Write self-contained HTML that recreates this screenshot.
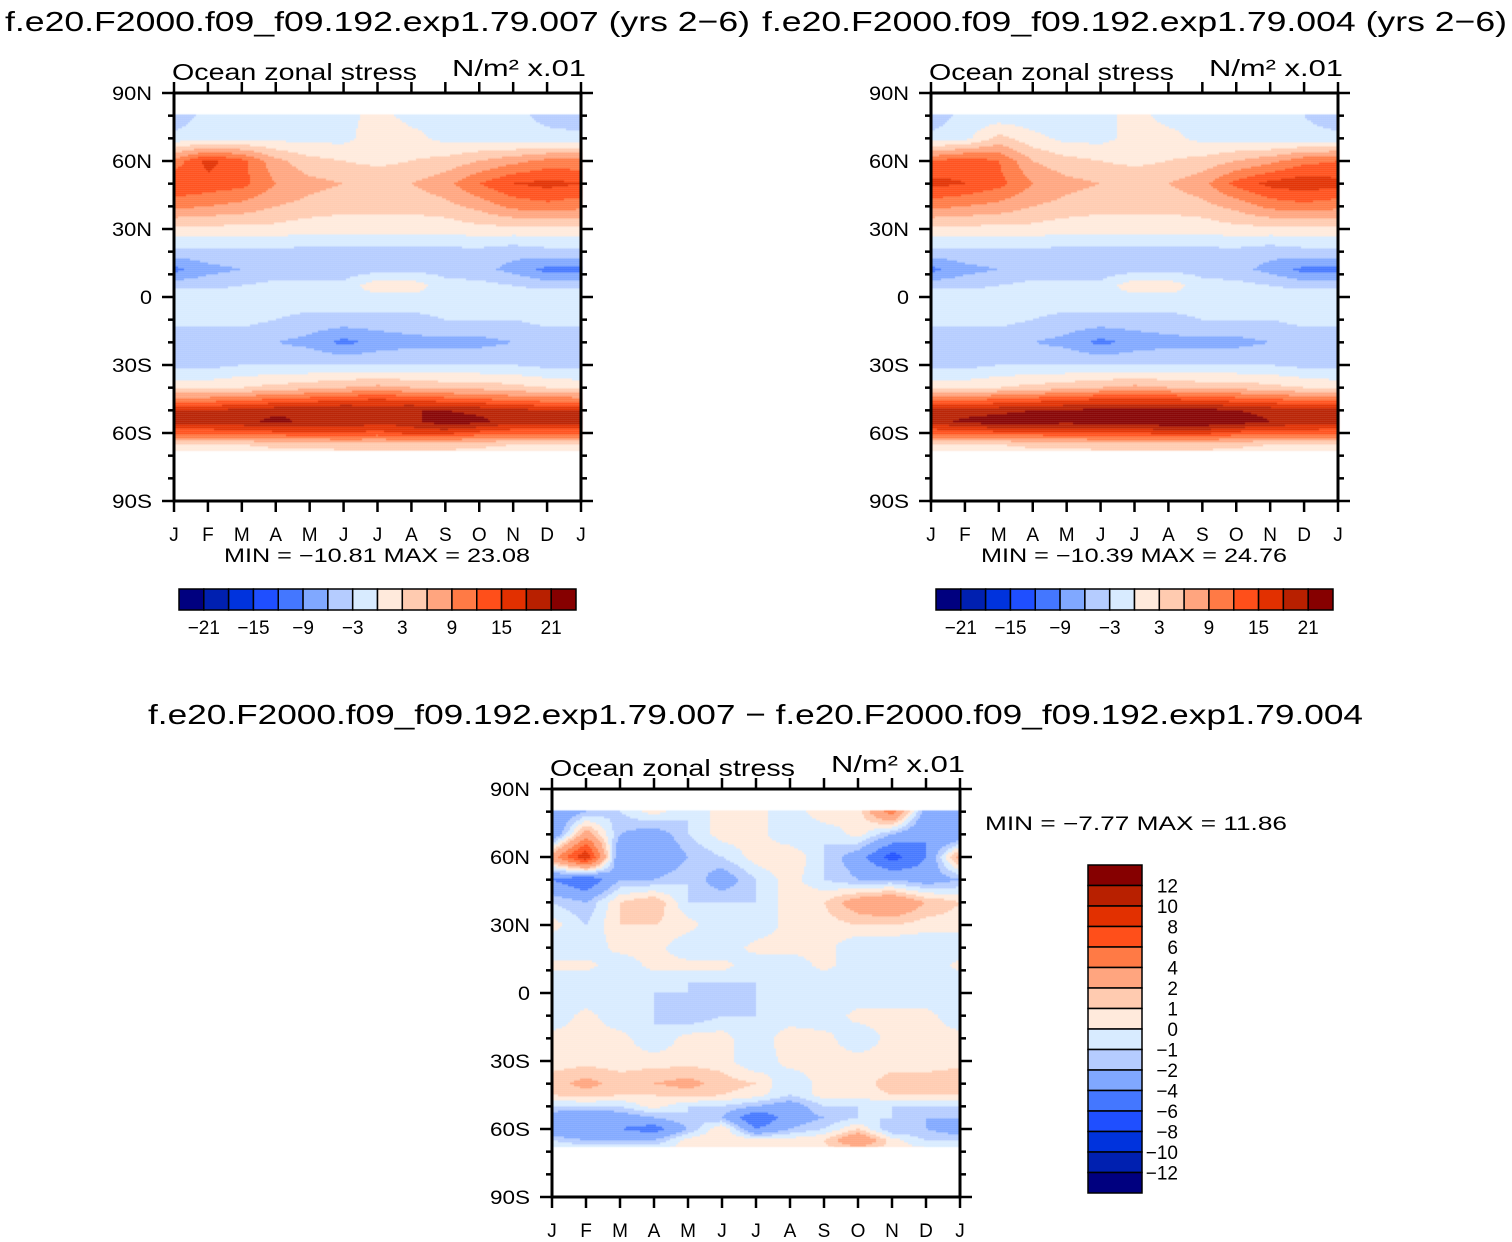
<!DOCTYPE html>
<html><head><meta charset="utf-8"><style>
body{margin:0;background:#fff;width:1512px;height:1242px;overflow:hidden;font-family:"Liberation Sans",sans-serif;position:relative}
canvas{position:absolute;left:0;top:0}
svg{position:absolute;left:0;top:0}
</style></head><body>
<canvas id="cv" width="1512" height="1242"></canvas>
<svg id="sv" width="1512" height="1242"></svg>
<script>
const months=["J","F","M","A","M","J","J","A","S","O","N","D","J"];
const lats=[80,70,60,50,40,30,20,12,5,0,-10,-20,-30,-40,-45,-50,-55,-60,-65,-70];
const colors=["#00007f","#0020b0","#0033dd","#1f4fff","#4477ff","#80a8ff","#b5ccff","#d8ebff","#ffeadc","#ffcbb0","#ffa57f","#ff7a45","#ff4f1a","#e23000","#b82000","#860000"];
const levelsTop=[-21,-18,-15,-12,-9,-6,-3,0,3,6,9,12,15,18,21];
const levelsDiff=[-12,-10,-8,-6,-4,-2,-1,0,1,2,4,6,8,10,12];
const fieldA=[
[-5,-2,-2,-2,-1,-1,1,-1,-1,-1,-2,-4,-5],
[-2,-1,-1,-1,-1,-1,2,1,-1,-1,-2,-2,-2],
[10,16,13,7,4,3,2,3,4,6,8,10,10],
[15,14,13,9,7,6,6,6,8,12,15,16,15],
[10,9,8,6,5,4,4,4,5,7,10,11,10],
[2,2,2,2,1,1,1,1,1,2,2,2,2],
[-4,-4,-4,-4,-4,-4,-4,-4,-4,-4,-5,-4,-4],
[-10,-7,-6,-5,-5,-5,-4,-4,-4,-5,-7,-10,-10],
[-4,-4,-3,-2,-2,-2,2,2,-2,-2,-3,-4,-4],
[-1,-1,-1,-1,-1,-1,-1,-1,-1,-1,-1,-1,-1],
[-2,-2,-2,-3,-4,-4,-4,-4,-3,-3,-3,-2,-2],
[-5,-5,-5,-6,-7,-10,-8,-7,-7,-7,-6,-5,-5],
[-4,-4,-3,-3,-3,-3,-3,-3,-3,-3,-3,-4,-4],
[2,2,3,4,5,6,7,6,5,5,4,3,2],
[10,10,11,12,13,14,15,14,13,12,11,10,10],
[18,18,19,20,21,21,20,21,21,20,19,18,18],
[19,19,20,22,20,21,19,20,23,22,19,19,19],
[13,13,14,14,15,15,14,16,16,14,13,13,13],
[3,3,3,4,4,5,5,5,5,4,3,3,3],
[-1,-1,1,1,1,1,1,1,1,1,1,-1,-1]];
const fieldB=[
[-5,-2,-2,-2,-1,-1,1,-1,-1,-1,-2,-3,-5],
[-2,-1,4,1,-1,-1,1,1,-1,-1,-2,-2,-2],
[12,14,12,6,4,3,2,3,4,6,8,11,12],
[16,15,13,9,7,6,6,6,8,13,16,17,16],
[10,9,8,6,5,4,4,4,5,7,10,11,10],
[2,2,2,2,1,1,1,1,1,2,2,2,2],
[-4,-4,-4,-4,-4,-4,-4,-4,-4,-4,-5,-4,-4],
[-10,-7,-6,-5,-5,-5,-4,-4,-4,-5,-7,-10,-10],
[-4,-4,-3,-2,-2,-2,2,2,-2,-2,-3,-4,-4],
[-1,-1,-1,-1,-1,-1,-1,-1,-1,-1,-1,-1,-1],
[-2,-2,-2,-3,-4,-4,-4,-4,-3,-3,-3,-2,-2],
[-5,-5,-5,-6,-7,-10,-8,-7,-7,-7,-6,-5,-5],
[-4,-4,-3,-3,-3,-3,-3,-3,-3,-3,-3,-4,-4],
[2,2,3,4,5,6,7,6,5,5,4,3,2],
[11,11,12,13,14,15,15,15,14,13,12,11,11],
[19,19,20,21,21,22,22,22,22,21,20,19,19],
[19,22,23,23,22,23,23,24,24,23,21,20,19],
[13,13,14,14,15,15,15,16,16,14,13,13,13],
[3,3,3,4,4,5,5,5,5,4,3,3,3],
[-1,-1,1,1,1,1,1,1,1,1,1,-1,-1]];
const fieldD=[
[-4,-2,-1,0.5,-1,0.5,0.5,-1,1,0.5,5,-3,-4],
[-4,3,-2,-3,-1,0.5,0.5,-1,-1,0.5,-2,-4,-4],
[3,10,-4,-4,-2,-1,0.5,1,-1,-3,-7,-4,3],
[-4,-6,-2,-2,-1,-3,-1,0.5,-1,-2,-2,-3,-2],
[-1,-2,1,2,-1,-1,-1,0.5,1,3,4,2,1],
[0.5,-1,1,1,0.5,-1,-1,0.5,0.5,1,1,0.5,0.5],
[-1,-1,0.5,0.5,-1,-1,0.5,0.5,0.5,-1,-1,-1,-1],
[0.5,0.5,-1,0.5,0.5,0.5,-1,-1,0.5,-1,-1,-1,0.5],
[-1,-1,-1,-1,-1,-1,-1,-1,-1,-1,-1,-1,-1],
[-1,-1,-1,-1,-1,-2,-1,-1,-1,-1,-1,-1,-1],
[-1,0.5,-1,-1,-2,-1,-1,-1,-1,0.5,0.5,0.5,-1],
[0.5,0.5,0.5,-1,0.5,0.5,-1,1,0.5,-1,0.5,0.5,0.5],
[0.5,0.5,0.5,0.5,0.5,0.5,-1,0.5,0.5,0.5,0.5,0.5,0.5],
[1.5,2.5,1.5,2,2.5,1.5,1,-1,0.5,0.5,1.5,1.5,2],
[1,1.5,1,1,1.5,1,0.5,-1,0.5,0.5,1,1,1],
[-1,-1,-1,0.5,-1,-1,-2,-3,-1,-1,-1,-1,-1],
[-3,-4,-3,-2,-1,-2,-6,-3,-2,-1,-1,-2,-2],
[-4,-4,-4,-5,-2,1,-4,-2,-1,1,-2,-2,-3],
[-1,-2,-2,-2,0.5,1,0.5,0.5,1,4,0.5,-1,-1],
[0.5,0.5,0.5,0.5,0.5,0.5,0.5,0.5,0.5,0.5,0.5,0.5,0.5]];
const panels=[
 {x:174,y:93,w:407,h:408,field:fieldA,levels:levelsTop,title:"f.e20.F2000.f09_f09.192.exp1.79.007 (yrs 2\u22126)",tx:5,minmax:"MIN = \u221210.81  MAX =   23.08"},
 {x:931,y:93,w:407,h:408,field:fieldB,levels:levelsTop,title:"f.e20.F2000.f09_f09.192.exp1.79.004 (yrs 2\u22126)",tx:762,minmax:"MIN = \u221210.39  MAX =   24.76"},
 {x:552,y:789,w:408,h:408,field:fieldD,levels:levelsDiff,title:null,minmax:null}];
const ctx=document.getElementById('cv').getContext('2d');
function colorFor(v,lv){let i=0;while(i<lv.length&&v>=lv[i])i++;return colors[i];}
function sample(f,m,lat){
 let r=0;while(r<lats.length-2&&lat<lats[r+1])r++;
 let t=(lats[r]-lat)/(lats[r]-lats[r+1]);t=Math.max(0,Math.min(1,t));
 let c=Math.min(11,Math.floor(m));let s=m-c;
 const a=f[r][c]*(1-s)+f[r][c+1]*s,b=f[r+1][c]*(1-s)+f[r+1][c+1]*s;return a*(1-t)+b*t;}
panels.forEach(p=>{
 const yOf=lat=>p.y+(90-lat)/180*p.h;
 const y0=yOf(80.5),y1=yOf(-68);
 for(let y=y0;y<y1;y+=2){const lat=90-(y+1-p.y)/p.h*180;
  for(let x=p.x;x<p.x+p.w;x+=2){const m=(x+1-p.x)/p.w*12;
   ctx.fillStyle=colorFor(sample(p.field,m,lat),p.levels);ctx.fillRect(x,y,2.2,Math.min(2.2,y1-y));}}
});
const sv=document.getElementById('sv');const NS="http://www.w3.org/2000/svg";
function el(t,a,txt){const e=document.createElementNS(NS,t);for(const k in a)e.setAttribute(k,a[k]);if(txt!=null)e.textContent=txt;sv.appendChild(e);return e;}
panels.forEach((p,pi)=>{
 let r=el('rect',{x:p.x,y:p.y,width:p.w,height:p.h,fill:'none',stroke:'#000','stroke-width':3});
 
 for(let lat=90;lat>=-90;lat-=10){const y=p.y+(90-lat)/180*p.h;const L=lat%30==0?12:6;
  el('line',{x1:p.x-L,y1:y,x2:p.x,y2:y,stroke:'#000','stroke-width':2.5});
  el('line',{x1:p.x+p.w,y1:y,x2:p.x+p.w+L,y2:y,stroke:'#000','stroke-width':2.5});
  if(lat%30==0){const t=el('text',{x:p.x-22,y:y+7,'text-anchor':'end','font-size':19,textLength:lat==0?12:40,lengthAdjust:'spacingAndGlyphs'},lat==0?'0':Math.abs(lat)+(lat>0?'N':'S'));
   }}
 months.forEach((mn,i)=>{const x=p.x+i/12*p.w;
  el('line',{x1:x,y1:p.y+p.h,x2:x,y2:p.y+p.h+11,stroke:'#000','stroke-width':2.5});
  el('line',{x1:x,y1:p.y-11,x2:x,y2:p.y,stroke:'#000','stroke-width':2.5});
  const t=el('text',{x:x,y:p.y+p.h+40,'text-anchor':'middle','font-size':19},mn);
  });
 let t=el('text',{x:p.x-2,y:p.y-13,'font-size':23,textLength:245,lengthAdjust:'spacingAndGlyphs'},'Ocean zonal stress');
 
 t=el('text',{x:p.x+p.w-129,y:p.y-17,'font-size':23,textLength:134,lengthAdjust:'spacingAndGlyphs'},'N/m\u00b2 x.01');
 
 if(p.title){t=el('text',{x:p.tx,y:31,'font-size':28,textLength:745,lengthAdjust:'spacingAndGlyphs'},p.title);
  
  t=el('text',{x:p.x+50,y:562,'font-size':19,textLength:306,lengthAdjust:'spacingAndGlyphs'},p.minmax);
  
  const bx=p.x+5,bw=397/16;
  colors.forEach((c,i)=>{const rr=el('rect',{x:bx+i*bw,y:589,width:bw,height:21,fill:c,stroke:'#000','stroke-width':1.5});
   });
  p.levels.forEach((v,i)=>{if(i%2==0){const tt=el('text',{x:bx+(i+1)*bw,y:634,'text-anchor':'middle','font-size':19},v<0?'\u2212'+(-v):v);
   }});
 }
});
let t=el('text',{x:148,y:724,'font-size':28,textLength:1215,lengthAdjust:'spacingAndGlyphs'},'f.e20.F2000.f09_f09.192.exp1.79.007 \u2212 f.e20.F2000.f09_f09.192.exp1.79.004');

t=el('text',{x:985,y:830,'font-size':19,textLength:302,lengthAdjust:'spacingAndGlyphs'},'MIN =   \u22127.77  MAX =   11.86');

const bh=328/16;
colors.slice().reverse().forEach((c,i)=>{const rr=el('rect',{x:1088,y:865+i*bh,width:54,height:bh,fill:c,stroke:'#000','stroke-width':1.5});
 });
levelsDiff.slice().reverse().forEach((v,i)=>{const tt=el('text',{x:1178,y:865+(i+1)*bh+7,'text-anchor':'end','font-size':19},v<0?'\u2212'+(-v):v);
 });
</script>
</body></html>
